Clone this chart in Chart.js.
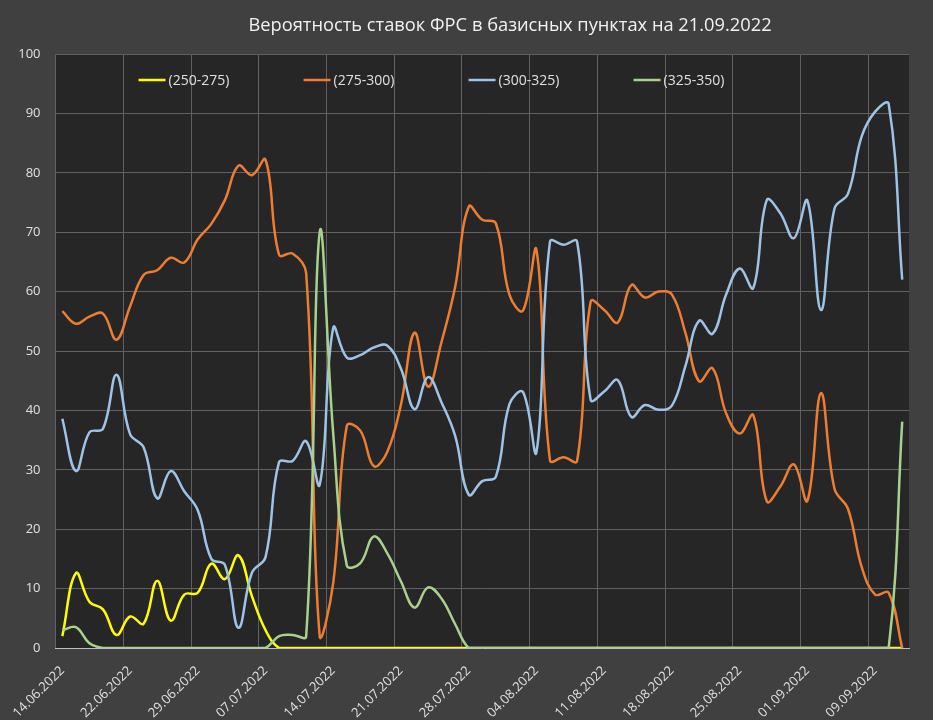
<!DOCTYPE html>
<html>
<head>
<meta charset="utf-8">
<script src="https://cdn.jsdelivr.net/npm/chart.js@4"></script>
<style>
  html, body { margin: 0; padding: 0; background: #404040; }
  .wrap { position: relative; width: 933px; height: 720px; overflow: hidden; }
  .title {
    position: absolute; top: 11px; left: 510px; transform: translateX(-50%);
    white-space: nowrap; font: 18.3px "Open Sans", sans-serif; color: #f2f2f2;
  }
  canvas { display: block; }
</style>
</head>
<body>
<div class="wrap">
  <div class="title">Вероятность ставок ФРС в базисных пунктах на 21.09.2022</div>
  <canvas id="chart" width="933" height="720"></canvas>
</div>
<script>
// trading days (US holidays 20.06, 04.07, 05.09 skipped)
const dates = [
  "14.06.2022", "15.06.2022", "16.06.2022", "17.06.2022", "21.06.2022",
  "22.06.2022", "23.06.2022", "24.06.2022", "27.06.2022", "28.06.2022",
  "29.06.2022", "30.06.2022", "01.07.2022", "05.07.2022", "06.07.2022",
  "07.07.2022", "08.07.2022", "11.07.2022", "12.07.2022", "13.07.2022",
  "14.07.2022", "15.07.2022", "18.07.2022", "19.07.2022", "20.07.2022",
  "21.07.2022", "22.07.2022", "25.07.2022", "26.07.2022", "27.07.2022",
  "28.07.2022", "29.07.2022", "01.08.2022", "02.08.2022", "03.08.2022",
  "04.08.2022", "05.08.2022", "08.08.2022", "09.08.2022", "10.08.2022",
  "11.08.2022", "12.08.2022", "15.08.2022", "16.08.2022", "17.08.2022",
  "18.08.2022", "19.08.2022", "22.08.2022", "23.08.2022", "24.08.2022",
  "25.08.2022", "26.08.2022", "29.08.2022", "30.08.2022", "31.08.2022",
  "01.09.2022", "02.09.2022", "06.09.2022", "07.09.2022", "08.09.2022",
  "09.09.2022", "12.09.2022", "13.09.2022"
];

const r250_275 = [
  2.0, 12.6, 7.8, 6.5, 2.2, 5.3, 4.1, 11.3, 4.6, 9.0,
  9.3, 14.2, 11.6, 15.6, 8.7, 3.0, 0, 0, 0, 0,
  0, 0, 0, 0, 0, 0, 0, 0, 0, 0,
  0, 0, 0, 0, 0, 0, 0, 0, 0, 0,
  0, 0, 0, 0, 0, 0, 0, 0, 0, 0,
  0, 0, 0, 0, 0, 0, 0, 0, 0, 0,
  0, 0, 0
];

const r275_300 = [
  56.7, 54.6, 55.8, 56.3, 51.9, 57.5, 62.8, 63.6, 65.7, 64.9,
  68.8, 71.4, 75.4, 81.2, 79.6, 82.2, 66.2, 66.4, 63.1, 2.0,
  11.0, 37.4, 36.6, 30.6, 33.1, 41.0, 53.1, 44.0, 51.6, 60.8,
  74.3, 72.1, 71.5, 59.5, 56.8, 67.0, 31.6, 32.1, 31.5, 58.3,
  56.9, 54.8, 61.1, 59.0, 60.0, 59.5, 53.0, 44.9, 47.1, 39.5,
  36.1, 39.2, 24.7, 27.2, 30.9, 24.8, 42.9, 26.8, 23.4, 13.7,
  9.0, 9.3, 0
];

const r300_325 = [
  38.6, 29.8, 36.3, 36.9, 46.0, 36.0, 33.8, 25.2, 29.8, 26.4,
  23.2, 15.0, 14.0, 3.4, 12.7, 15.3, 31.3, 31.5, 34.8, 27.5,
  53.9, 48.9, 49.3, 50.6, 50.9, 47.0, 40.2, 45.6, 41.3, 35.7,
  25.8, 28.1, 28.8, 41.0, 43.1, 33.0, 68.4, 67.9, 68.4, 41.8,
  43.2, 45.1, 38.9, 40.9, 40.1, 40.8, 47.5, 55.1, 52.9, 59.5,
  63.9, 60.6, 75.4, 73.2, 69.0, 75.3, 56.9, 74.0, 76.5, 86.1,
  90.3, 91.6, 62.0
];

const r325_350 = [
  3.0, 3.5, 0.8, 0, 0, 0, 0, 0, 0, 0,
  0, 0, 0, 0, 0, 0, 2.0, 2.2, 2.0, 70.0,
  36.0, 13.9, 14.3, 18.8, 15.9, 11.2, 6.8, 10.2, 8.3, 4.0,
  0, 0, 0, 0, 0, 0, 0, 0, 0, 0,
  0, 0, 0, 0, 0, 0, 0, 0, 0, 0,
  0, 0, 0, 0, 0, 0, 0, 0, 0, 0,
  0, 0, 38.1
];

const seriesNames = ["(250-275)", "(275-300)", "(300-325)", "(325-350)"];
const seriesColors = ["#ffff00", "#ed7d31", "#9dc3e6", "#a9d18e"];
const seriesData = [r250_275, r275_300, r300_325, r325_350];

const textColor = "#e0e0e0";
const gridColor = "#616161";

Chart.defaults.font.family = '"Open Sans", sans-serif';

// dark plot area behind the lines
const plotBg = {
  id: "plotBg",
  beforeDraw(chart) {
    const { ctx, chartArea: a } = chart;
    ctx.save();
    ctx.fillStyle = "#262626";
    ctx.fillRect(a.left, a.top, a.right - a.left, a.bottom - a.top);
    ctx.restore();
  },
};

// legend sits inside the plot, like the excel one
const innerLegend = {
  id: "innerLegend",
  afterDraw(chart) {
    const { ctx, chartArea: a } = chart;
    ctx.save();
    ctx.font = '14px "Open Sans"';
    ctx.textBaseline = "middle";
    chart.data.datasets.forEach((ds, k) => {
      const x = a.left + 83 + k * 165;
      const y = a.top + 26;
      ctx.strokeStyle = ds.borderColor;
      ctx.lineWidth = 2.5;
      ctx.beginPath();
      ctx.moveTo(x, y);
      ctx.lineTo(x + 27, y);
      ctx.stroke();
      ctx.fillStyle = textColor;
      ctx.fillText(ds.label, x + 30, y + 1);
    });
    ctx.restore();
  },
};

const ctx = document.getElementById("chart").getContext("2d");
new Chart(ctx, {
  type: "line",
  data: {
    labels: dates,
    datasets: seriesData.map((d, k) => ({
      label: seriesNames[k],
      data: d,
      borderColor: seriesColors[k],
      backgroundColor: seriesColors[k],
      borderWidth: 2.5,
      pointRadius: 0,
      tension: 0.4,
      order: 4 - k, // later series on top
    })),
  },
  options: {
    responsive: false,
    animation: false,
    devicePixelRatio: 1,
    layout: { padding: { top: 54, right: 24, bottom: 0, left: 0 } },
    plugins: {
      legend: { display: false },
      title: { display: false },
      tooltip: { enabled: false },
    },
    scales: {
      x: {
        offset: true,
        grid: {
          offset: true,
          drawTicks: false,
          color: (c) => (c.index % 5 === 0 ? gridColor : "transparent"),
        },
        border: { color: "#bfbfbf", width: 1 },
        ticks: {
          autoSkip: false,
          minRotation: 45,
          maxRotation: 45,
          padding: 15,
          color: textColor,
          font: { size: 13 },
          callback: (v, i) => (i % 5 === 0 ? dates[i] : ""),
        },
        afterFit: (s) => { s.height = 72; },
      },
      y: {
        min: 0,
        max: 100,
        grid: { color: gridColor, drawTicks: false },
        border: { display: false },
        ticks: {
          stepSize: 10,
          padding: 15,
          color: textColor,
          font: { size: 13 },
        },
        afterFit: (s) => { s.width = 55.5; },
      },
    },
  },
  plugins: [plotBg, innerLegend],
});
</script>
</body>
</html>
